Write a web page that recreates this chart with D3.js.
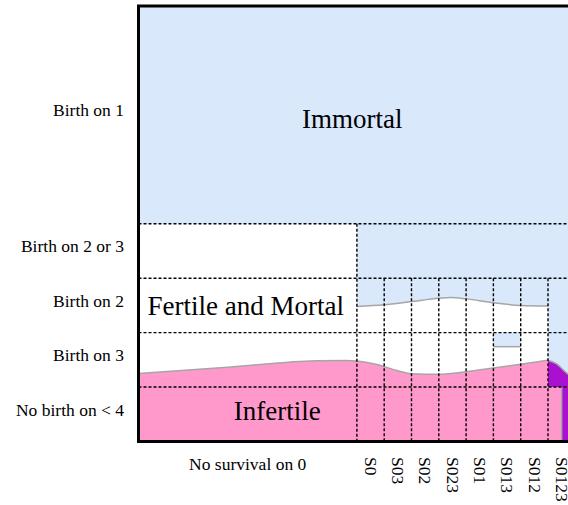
<!DOCTYPE html>
<html>
<head>
<meta charset="utf-8">
<script src="https://cdn.jsdelivr.net/npm/d3@7"></script>
<style>
  html, body { margin: 0; padding: 0; background: #fff; }
  svg { display: block; }
  text { font-family: "Liberation Serif", "Times New Roman", serif; fill: #000; }
</style>
</head>
<body>
<svg id="chart" width="568" height="505"></svg>
<script>
// ---- data ----
// rows (top to bottom) with their span in row units
const rowLabels = ["Birth on 1", "Birth on 2 or 3", "Birth on 2", "Birth on 3", "No birth on < 4"];
const rowSpans  = [4, 1, 1, 1, 1];
// columns (left to right) with their span in column units
const colLabels = ["No survival on 0", "S0", "S03", "S02", "S023", "S01", "S013", "S012", "S0123"];
const colSpans  = [8, 1, 1, 1, 1, 1, 1, 1, 1];
// region names with anchor (column unit, row unit)
const regionNames = ["Immortal", "Fertile and Mortal", "Infertile"];
const regionAnchorX = [7.83, 3.93, 5.08];
const regionAnchorY = [2.25, 5.68, 7.6];
// boundary between Immortal and Fertile in the "Birth on 2" row (S columns)
const upperBoundaryX = [8, 9, 10, 11, 11.45, 12, 13, 14, 15];
const upperBoundaryY = [5.52, 5.49, 5.43, 5.37, 5.355, 5.38, 5.45, 5.50, 5.51];
// boundary between Fertile and Infertile
const lowerBoundaryX = [0, 3.4, 6.5, 7.6, 8, 8.7, 9.5, 10, 11, 12, 13, 14, 15];
const lowerBoundaryY = [6.75, 6.63, 6.515, 6.51, 6.52, 6.58, 6.70, 6.755, 6.765, 6.72, 6.65, 6.58, 6.507];
// purple region boundary (S0123 column)
const purpleBoundaryX = [15, 15.3, 15.7, 16];
const purpleBoundaryY = [6.507, 6.57, 6.75, 6.86];
// small immortal cell in S013 / Birth on 3
const smallCellX = [13, 14];
const smallCellY = [6, 6.258];

const colors = { immortal: "#dae8fc", fertile: "#ffffff", infertile: "#ff99cc", purple: "#aa10d0", edge: "#a6a6a6" };

// ---- scales ----
const totalCols = d3.sum(colSpans), totalRows = d3.sum(rowSpans);
const x = d3.scaleLinear().domain([0, totalCols]).range([138.5, 138.5 + 16 * 27.3]);
const y = d3.scaleLinear().domain([0, totalRows]).range([6, 441.5]);

const colStart = d3.cumsum([0, ...colSpans]);
const rowStart = d3.cumsum([0, ...rowSpans]);

const svg = d3.select("#chart");
const g = svg.append("g");

// background: immortal
g.append("rect").attr("x", x(0)).attr("y", y(0))
  .attr("width", x(totalCols) - x(0)).attr("height", y(totalRows) - y(0))
  .attr("fill", colors.immortal);

// fertile: first column rows 1..3
g.append("rect").attr("x", x(0)).attr("y", y(rowStart[1]))
  .attr("width", x(colStart[1]) - x(0)).attr("height", y(rowStart[4]) - y(rowStart[1]))
  .attr("fill", colors.fertile);

// fertile in S columns below upper boundary
const upperPts = upperBoundaryX.map((d, i) => [d, upperBoundaryY[i]]);
const areaDown = (base) => d3.area().x(d => x(d[0])).y0(y(base)).y1(d => y(d[1])).curve(d3.curveMonotoneX);
const lineGen = d3.line().x(d => x(d[0])).y(d => y(d[1])).curve(d3.curveMonotoneX);

g.append("path").datum(upperPts).attr("d", areaDown(rowStart[4])).attr("fill", colors.fertile);

// small immortal cell
g.append("rect").attr("x", x(smallCellX[0])).attr("y", y(smallCellY[0]))
  .attr("width", x(smallCellX[1]) - x(smallCellX[0])).attr("height", y(smallCellY[1]) - y(smallCellY[0]))
  .attr("fill", colors.immortal);
g.append("line").attr("x1", x(smallCellX[0])).attr("x2", x(smallCellX[1]))
  .attr("y1", y(smallCellY[1])).attr("y2", y(smallCellY[1]))
  .attr("stroke", colors.edge).attr("stroke-width", 1.5);

// infertile
const lowerPts = lowerBoundaryX.map((d, i) => [d, lowerBoundaryY[i]]);
g.append("path").datum(lowerPts).attr("d", areaDown(totalRows)).attr("fill", colors.infertile);
g.append("rect").attr("x", x(15)).attr("y", y(rowStart[4]))
  .attr("width", x(totalCols) - x(15)).attr("height", y(totalRows) - y(rowStart[4]))
  .attr("fill", colors.infertile);

// purple
const purplePts = purpleBoundaryX.map((d, i) => [d, purpleBoundaryY[i]]);
g.append("path").datum(purplePts).attr("d", areaDown(rowStart[4])).attr("fill", colors.purple);
g.append("rect").attr("x", x(15.5)).attr("y", y(rowStart[4]))
  .attr("width", x(totalCols) - x(15.5)).attr("height", y(totalRows) - y(rowStart[4]))
  .attr("fill", colors.purple);
g.append("line").attr("x1", x(15.5)).attr("x2", x(15.5))
  .attr("y1", y(rowStart[4])).attr("y2", y(totalRows))
  .attr("stroke", colors.edge).attr("stroke-width", 1.5);

// boundary strokes
[upperPts, lowerPts, purplePts].forEach(pts => {
  g.append("path").datum(pts).attr("d", lineGen)
    .attr("fill", "none").attr("stroke", colors.edge).attr("stroke-width", 1.5);
});

// dashed grid
const dash = { "stroke": "#000", "stroke-width": 1.4, "stroke-dasharray": "3,2" };
function styled(sel) { Object.entries(dash).forEach(([k, v]) => sel.attr(k, v)); return sel; }
rowStart.slice(1, -1).forEach(r => {
  styled(g.append("line").attr("x1", x(0)).attr("x2", x(totalCols)).attr("y1", y(r)).attr("y2", y(r)));
});
colStart.slice(1, -1).forEach((c, i) => {
  const top = i === 0 ? rowStart[1] : rowStart[2];
  styled(g.append("line").attr("x1", x(c)).attr("x2", x(c)).attr("y1", y(top)).attr("y2", y(totalRows)));
});

// frame
g.append("rect").attr("x", x(0)).attr("y", y(0))
  .attr("width", x(totalCols) - x(0)).attr("height", y(totalRows) - y(0))
  .attr("fill", "none").attr("stroke", "#000").attr("stroke-width", 3);

// row labels
rowLabels.forEach((lab, i) => {
  const cy = y(rowStart[i] + rowSpans[i] / 2);
  svg.append("text").attr("x", 124).attr("y", cy + 1.5)
    .attr("text-anchor", "end").attr("font-size", 17.5).text(lab);
});

// column labels
colLabels.forEach((lab, i) => {
  const cx = x(colStart[i] + colSpans[i] / 2);
  if (i === 0) {
    svg.append("text").attr("x", cx).attr("y", 470)
      .attr("text-anchor", "middle").attr("font-size", 17.5).text(lab);
  } else {
    svg.append("text").attr("transform", `translate(${cx},457) rotate(90)`)
      .attr("dy", "0.33em").attr("text-anchor", "start").attr("font-size", 17.5).text(lab);
  }
});

// region labels
regionNames.forEach((name, i) => {
  svg.append("text").attr("x", x(regionAnchorX[i])).attr("y", y(regionAnchorY[i]))
    .attr("text-anchor", "middle").attr("font-size", 27).text(name);
});
</script>
</body>
</html>
